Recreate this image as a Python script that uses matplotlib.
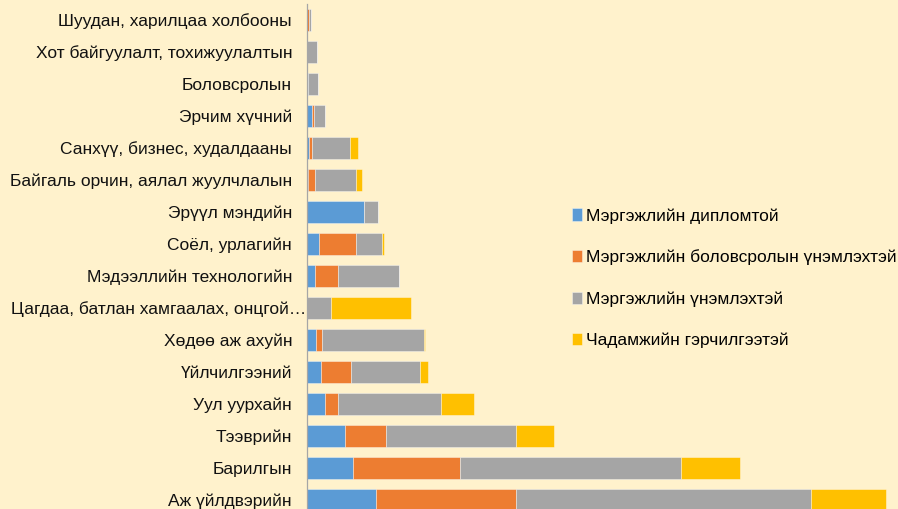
import numpy as np
import matplotlib
matplotlib.use("Agg")
import matplotlib.pyplot as plt
from matplotlib.transforms import ScaledTranslation

plt.rcParams['font.family'] = ['Liberation Sans', 'DejaVu Sans']

# categories, top to bottom as in the chart
categories = [
    "Шуудан, харилцаа холбооны",
    "Хот байгуулалт, тохижуулалтын",
    "Боловсролын",
    "Эрчим хүчний",
    "Санхүү, бизнес, худалдааны",
    "Байгаль орчин, аялал жуулчлалын",
    "Эрүүл мэндийн",
    "Соёл, урлагийн",
    "Мэдээллийн технологийн",
    "Цагдаа, батлан хамгаалах, онцгой…",
    "Хөдөө аж ахуйн",
    "Үйлчилгээний",
    "Уул уурхайн",
    "Тээврийн",
    "Барилгын",
    "Аж үйлдвэрийн",
]

series_names = [
    "Мэргэжлийн дипломтой",
    "Мэргэжлийн боловсролын үнэмлэхтэй",
    "Мэргэжлийн үнэмлэхтэй",
    "Чадамжийн гэрчилгээтэй",
]

# values (same order as categories)
diploma = [0, 0, 0.5, 5, 2.3, 1.3, 57, 12, 8, 0, 9, 14, 18, 38, 46, 69]
vocational = [1.5, 0, 0, 2, 2.3, 6.7, 0, 37, 23, 0, 6, 30, 13, 41, 107, 140]
certificate = [2.7, 9.5, 10, 11, 38, 41, 14, 26, 61, 24, 102, 69, 103, 130, 221, 295]
competency = [0, 0, 0, 0, 8, 5.5, 0, 1.7, 0, 80, 1.3, 8, 33, 38, 59, 75]

colors = ["#5B9BD5", "#ED7D31", "#A5A5A5", "#FFC000"]
bg = "#FFF2CC"

W, H = 898, 509
fig = plt.figure(figsize=(W / 100, H / 100), dpi=100, facecolor=bg)
ax = fig.add_axes([307 / W, (H - 516) / H, 582 / W, 512 / H], facecolor=bg)

y = np.arange(len(categories))[::-1]
left = np.zeros(len(categories))
for name, vals, col in zip(series_names, [diploma, vocational, certificate, competency], colors):
    vals = np.array(vals, dtype=float)
    ax.barh(y, vals, left=left, height=0.7, color=col, label=name,
            edgecolor=(1, 1, 1, 0.45), linewidth=0.6)
    left += vals

ax.set_xlim(0, 582)
ax.set_ylim(-0.5, len(categories) - 0.5)
ax.set_yticks(y)
ax.set_yticklabels(categories, fontsize=12.5, color="#111111")
ax.tick_params(axis='y', length=0, pad=10.8)
ax.set_xticks([])
for s in ["top", "right", "bottom"]:
    ax.spines[s].set_visible(False)
ax.spines["left"].set_color("#A6A6A6")
ax.spines["left"].set_linewidth(0.9)

# the truncated label runs up to the axis line in the original
for lbl in ax.get_yticklabels():
    if lbl.get_text().endswith("…"):
        lbl.set_transform(lbl.get_transform() + ScaledTranslation(0.14, 0, fig.dpi_scale_trans))

handles, labels = ax.get_legend_handles_labels()
fig.legend(handles, labels, loc="upper left", bbox_to_anchor=(572 / W, 1 - 208 / H),
           frameon=False, fontsize=12.5, handlelength=0.55, handleheight=0.7,
           handletextpad=0.25, labelspacing=1.5, borderaxespad=0, borderpad=0)

fig.savefig("out.png", dpi=100, facecolor=bg)
